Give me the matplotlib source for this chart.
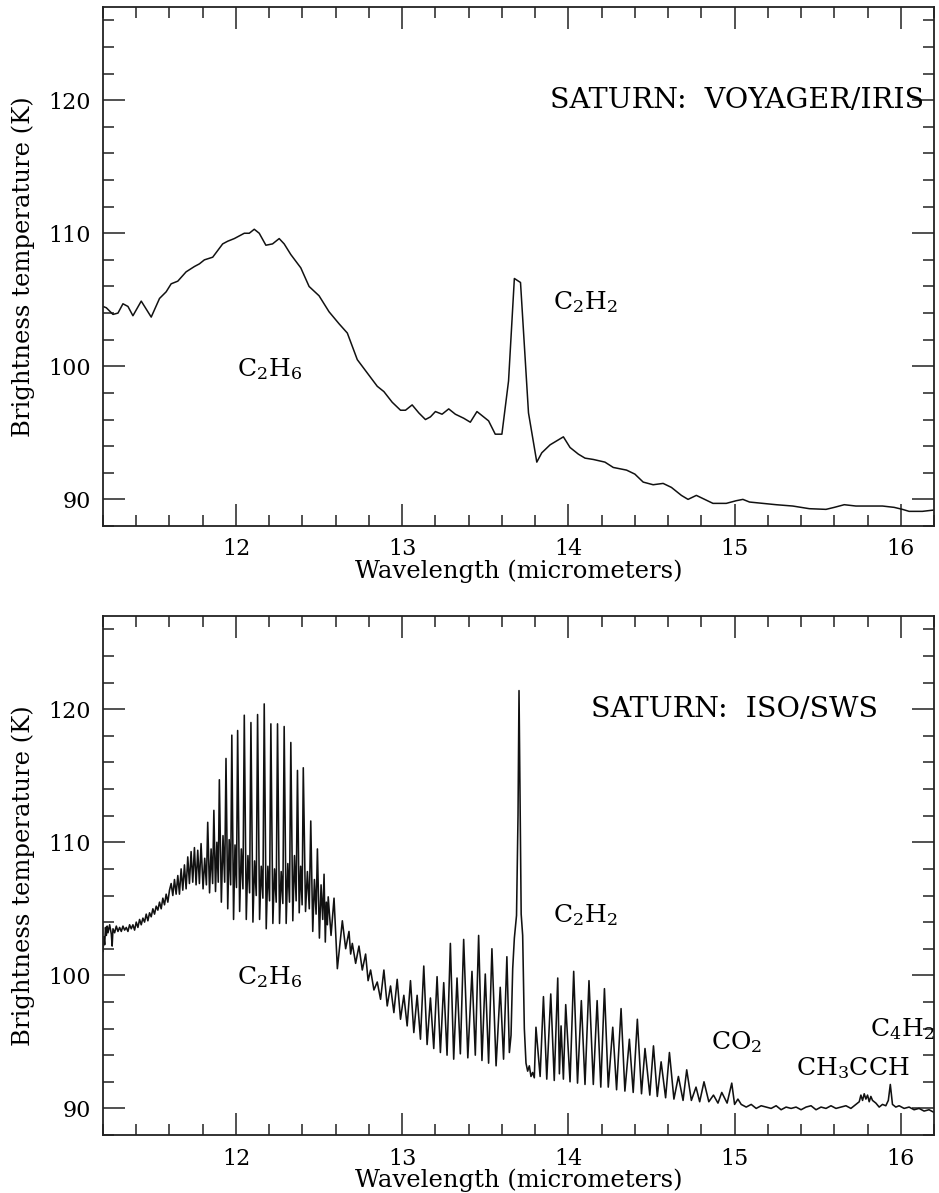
import numpy as np
import matplotlib
matplotlib.use('Agg')
import matplotlib.pyplot as plt
from matplotlib.ticker import MultipleLocator

plt.rcParams['font.family'] = ['DejaVu Serif']
plt.rcParams['mathtext.fontset'] = 'dejavuserif'

# --- Voyager / IRIS spectrum (top panel) ---
iris_wl = [11.20, 11.22, 11.26, 11.29, 11.32, 11.35, 11.38, 11.43, 11.49, 11.54,
           11.58, 11.61, 11.65, 11.70, 11.75, 11.78, 11.81, 11.86, 11.92, 11.95,
           11.99, 12.02, 12.05, 12.08, 12.11, 12.14, 12.18, 12.22, 12.26, 12.29,
           12.33, 12.39, 12.44, 12.50, 12.56, 12.62, 12.67, 12.73, 12.79, 12.85,
           12.89, 12.94, 12.99, 13.02, 13.06, 13.10, 13.14, 13.17, 13.20, 13.24,
           13.28, 13.32, 13.37, 13.41, 13.45, 13.52, 13.56, 13.60, 13.64, 13.675,
           13.712, 13.76, 13.81, 13.84, 13.89, 13.97, 14.01, 14.06, 14.10, 14.15,
           14.22, 14.27, 14.35, 14.40, 14.45, 14.51, 14.57, 14.62, 14.68, 14.72,
           14.77, 14.82, 14.87, 14.95, 15.01, 15.05, 15.09, 15.17, 15.25, 15.35,
           15.45, 15.55, 15.60, 15.66, 15.73, 15.80, 15.89, 15.96, 16.01, 16.05,
           16.13, 16.20]
iris_tb = [104.5, 104.4, 103.9, 104.0, 104.7, 104.5, 103.8, 104.9, 103.7, 105.1,
           105.6, 106.2, 106.4, 107.1, 107.5, 107.7, 108.0, 108.2, 109.2, 109.4,
           109.6, 109.8, 110.0, 110.0, 110.3, 110.0, 109.1, 109.2, 109.6, 109.2,
           108.4, 107.4, 106.0, 105.3, 104.1, 103.2, 102.5, 100.5, 99.5, 98.5,
           98.1, 97.3, 96.7, 96.7, 97.1, 96.5, 96.0, 96.2, 96.6, 96.4,
           96.8, 96.4, 96.1, 95.8, 96.6, 95.9, 94.9, 94.9, 98.9, 106.6,
           106.3, 96.5, 92.8, 93.5, 94.1, 94.7, 93.9, 93.4, 93.1, 93.0,
           92.8, 92.4, 92.2, 91.9, 91.3, 91.1, 91.2, 90.9, 90.3, 90.0,
           90.3, 90.0, 89.7, 89.7, 89.9, 90.0, 89.8, 89.7, 89.6, 89.5,
           89.3, 89.25, 89.4, 89.6, 89.5, 89.5, 89.5, 89.4, 89.25, 89.1,
           89.1, 89.2]

# --- ISO / SWS spectrum (bottom panel), read piece by piece ---
# short-wavelength edge
edge_wl = [11.20, 11.205, 11.21, 11.215, 11.22, 11.225, 11.23, 11.24, 11.25, 11.255,
           11.26, 11.27, 11.28, 11.29, 11.30, 11.31, 11.32, 11.33, 11.34, 11.35,
           11.36, 11.37, 11.38, 11.39, 11.40, 11.41, 11.42, 11.43, 11.44, 11.45,
           11.46, 11.47, 11.48, 11.49, 11.50, 11.51, 11.52, 11.53, 11.54, 11.55,
           11.56, 11.57, 11.58, 11.59, 11.60]
edge_tb = [101.8, 102.9, 102.3, 103.6, 103.0, 103.7, 103.2, 103.8, 103.1, 102.2,
           103.5, 103.2, 103.7, 103.3, 103.6, 103.3, 103.7, 103.4, 103.6, 103.3,
           103.8, 103.5, 103.8, 103.4, 104.0, 103.6, 104.2, 103.8, 104.3, 104.0,
           104.6, 104.1, 104.7, 104.4, 105.0, 104.6, 105.2, 104.9, 105.5, 105.0,
           105.8, 105.3, 106.1, 105.5, 106.4]

# wing of the C2H6 band
wing_wl = [11.61, 11.62, 11.63, 11.64, 11.65, 11.66, 11.67, 11.68, 11.69, 11.70,
           11.71, 11.72, 11.73, 11.74, 11.75, 11.76, 11.77, 11.78]
wing_tb = [106.9, 106.0, 107.2, 106.1, 107.5, 106.1, 108.0, 106.4, 108.3, 106.5,
           108.9, 106.9, 109.3, 107.0, 109.6, 106.8, 109.4, 106.9]

# C2H6 Q-branches: line position, peak, deep dip, secondary peak, shallow dip
c2h6_wl = [11.79, 11.83, 11.867, 11.90, 11.94, 11.975, 12.01, 12.05, 12.09, 12.13,
           12.17, 12.21, 12.25, 12.29, 12.33, 12.37, 12.405, 12.45, 12.49, 12.53]
c2h6_peak = [109.9, 111.5, 112.4, 114.7, 116.3, 118.05, 118.4, 119.55, 119.0, 119.6,
             120.4, 118.9, 118.9, 118.7, 117.5, 115.4, 115.6, 111.6, 109.5, 107.6]
c2h6_deep = [106.5, 106.2, 106.3, 105.5, 105.0, 104.2, 104.8, 104.2, 104.0, 104.2,
             103.5, 103.9, 103.9, 103.9, 104.1, 104.7, 104.8, 103.3, 102.8, 102.5]
c2h6_mid = [108.8, 109.5, 110.0, 110.5, 110.2, 109.8, 109.5, 109.0, 108.6, 108.2,
            108.2, 108.0, 107.8, 108.4, 109.0, 108.2, 107.8, 107.2, 106.8, 105.5]
c2h6_shallow = [106.8, 106.9, 107.0, 107.0, 106.8, 106.6, 106.5, 106.2, 106.0, 105.8,
                105.6, 105.5, 105.4, 105.5, 105.6, 105.3, 105.0, 104.6, 104.2, 103.8]

# decline of the band and the C2H2 R-branch
decl_wl = [12.555, 12.572, 12.59, 12.61, 12.64, 12.66, 12.68, 12.69, 12.70, 12.72,
           12.74, 12.76, 12.78, 12.795, 12.81, 12.83, 12.85, 12.87, 12.89, 12.91,
           12.93, 12.95, 12.97, 12.99, 13.01, 13.03, 13.05, 13.07, 13.09, 13.11,
           13.13, 13.15, 13.17, 13.19, 13.21, 13.23, 13.25, 13.27, 13.29, 13.31,
           13.33, 13.35, 13.37, 13.395, 13.42, 13.44, 13.46, 13.48, 13.50, 13.52,
           13.54, 13.565, 13.59, 13.61, 13.63, 13.645]
decl_tb = [105.9, 103.0, 105.8, 100.5, 104.1, 102.0, 103.3, 101.6, 102.4, 100.9,
           102.2, 100.4, 101.6, 99.6, 100.4, 98.9, 99.5, 98.2, 100.4, 97.7,
           99.2, 97.2, 99.7, 96.7, 98.5, 96.2, 99.6, 95.7, 98.5, 95.2,
           100.7, 94.8, 98.3, 94.5, 99.9, 94.2, 99.45, 94.0, 102.4, 93.7,
           99.8, 94.1, 102.7, 93.8, 100.3, 94.0, 103.0, 93.6, 100.1, 93.4,
           102.0, 93.2, 99.1, 93.7, 101.4, 94.2]

# C2H2 Q-branch
q_wl = [13.655, 13.665, 13.675, 13.688, 13.697, 13.703, 13.708, 13.716, 13.725, 13.735,
        13.745, 13.755, 13.765, 13.775, 13.785, 13.795]
q_tb = [95.5, 100.5, 102.8, 104.5, 112.0, 121.4, 115.0, 104.6, 103.0, 96.0,
        93.4, 92.8, 93.2, 92.4, 92.7, 92.3]

# C2H2 P-branch up to CO2
p_wl = [13.805, 13.83, 13.85, 13.87, 13.894, 13.915, 13.936, 13.946, 13.956, 13.97,
        13.984, 14.01, 14.032, 14.055, 14.078, 14.10, 14.124, 14.15, 14.173, 14.195,
        14.217, 14.24, 14.267, 14.29, 14.317, 14.34, 14.367, 14.39, 14.415, 14.44,
        14.461, 14.49, 14.512, 14.535, 14.558, 14.585, 14.608, 14.635, 14.662, 14.69,
        14.712, 14.74, 14.768, 14.79, 14.816, 14.845, 14.873, 14.90, 14.923, 14.955,
        14.983, 15.00, 15.02]
p_tb = [96.1, 92.4, 98.4, 92.2, 98.6, 92.1, 99.8, 92.6, 96.2, 92.2,
        97.8, 92.0, 100.3, 91.9, 98.1, 91.8, 99.6, 91.8, 98.1, 91.6,
        99.0, 91.6, 96.1, 91.4, 97.5, 91.3, 95.2, 91.2, 96.7, 91.1,
        94.5, 91.0, 94.7, 90.9, 93.5, 90.8, 94.2, 90.7, 92.4, 90.6,
        92.9, 90.6, 91.6, 90.5, 92.0, 90.5, 91.0, 90.4, 91.2, 90.4,
        91.9, 90.3, 90.7]

# long-wavelength tail (CH3CCH, C4H2)
tail_wl = [15.04, 15.07, 15.10, 15.13, 15.16, 15.19, 15.22, 15.25, 15.28, 15.31,
           15.34, 15.37, 15.40, 15.43, 15.46, 15.49, 15.52, 15.55, 15.58, 15.61,
           15.64, 15.67, 15.70, 15.73, 15.75, 15.76, 15.77, 15.78, 15.79, 15.80,
           15.81, 15.82, 15.83, 15.85, 15.87, 15.89, 15.91, 15.925, 15.937, 15.95,
           15.97, 15.99, 16.02, 16.05, 16.08, 16.11, 16.14, 16.17, 16.20]
tail_tb = [90.3, 90.1, 90.3, 90.0, 90.2, 90.1, 90.0, 90.2, 89.9, 90.1,
           90.0, 90.1, 89.9, 90.1, 90.2, 89.9, 90.1, 90.0, 90.2, 90.0,
           90.1, 90.2, 90.0, 90.3, 90.5, 91.0, 90.6, 91.1, 90.7, 91.0,
           90.5, 90.9, 90.6, 90.4, 90.1, 90.3, 90.2, 90.6, 91.8, 90.3,
           90.1, 90.2, 90.0, 90.1, 89.9, 90.0, 89.8, 89.9, 89.7]

# assemble the C2H6 band: peak, deep dip, secondary peak, shallow dip per line
spacing = np.diff(np.append(c2h6_wl, decl_wl[0]))
band_wl, band_tb = [], []
for w, s, pk, lo, mid, sh in zip(c2h6_wl, spacing, c2h6_peak, c2h6_deep, c2h6_mid, c2h6_shallow):
    band_wl += [w, w + 0.3 * s, w + 0.55 * s, w + 0.8 * s]
    band_tb += [pk, lo, mid, sh]

iso_wl = np.concatenate([edge_wl, wing_wl, band_wl, decl_wl, q_wl, p_wl, tail_wl])
iso_tb = np.concatenate([edge_tb, wing_tb, band_tb, decl_tb, q_tb, p_tb, tail_tb])


def style_axes(ax):
    ax.set_xlim(11.2, 16.2)
    ax.set_ylim(88, 127)
    ax.xaxis.set_major_locator(MultipleLocator(1))
    ax.xaxis.set_minor_locator(MultipleLocator(0.2))
    ax.yaxis.set_major_locator(MultipleLocator(10))
    ax.yaxis.set_minor_locator(MultipleLocator(2))
    ax.tick_params(which='both', direction='in', top=True, right=True,
                   width=1.1, labelsize=16, pad=9, color='#222222')
    ax.tick_params(which='major', length=16)
    ax.tick_params(which='minor', length=8)
    for s in ax.spines.values():
        s.set_linewidth(1.3)
        s.set_color('#222222')
    ax.set_xlabel('Wavelength (micrometers)', fontsize=17.5, labelpad=-1)
    ax.set_ylabel('Brightness temperature (K)', fontsize=17.5, labelpad=9)


fig = plt.figure(figsize=(9.39, 11.93), dpi=100)
ax1 = fig.add_axes([0.1097, 0.5591, 0.8850, 0.4350])
ax2 = fig.add_axes([0.1097, 0.0486, 0.8850, 0.4350])

ax1.plot(iris_wl, iris_tb, color='#111111', lw=1.1)
style_axes(ax1)
ax1.text(16.14, 120, 'SATURN:  VOYAGER/IRIS', fontsize=20.5, ha='right', va='center')
ax1.text(12.20, 99.8, r'C$_2$H$_6$', fontsize=18, ha='center', va='center')
ax1.text(14.10, 104.8, r'C$_2$H$_2$', fontsize=18, ha='center', va='center')

ax2.plot(iso_wl, iso_tb, color='#111111', lw=1.15)
style_axes(ax2)
ax2.text(15.0, 120, 'SATURN:  ISO/SWS', fontsize=20.5, ha='center', va='center')
ax2.text(12.20, 99.9, r'C$_2$H$_6$', fontsize=18, ha='center', va='center')
ax2.text(14.10, 104.5, r'C$_2$H$_2$', fontsize=18, ha='center', va='center')
ax2.text(15.01, 95.0, r'CO$_2$', fontsize=18, ha='center', va='center')
ax2.text(15.71, 93.0, r'CH$_3$CCH', fontsize=18, ha='center', va='center')
ax2.text(15.815, 96.0, r'C$_4$H$_2$', fontsize=18, ha='left', va='center', clip_on=False)

fig.savefig('out.png', dpi=100, facecolor='white')
